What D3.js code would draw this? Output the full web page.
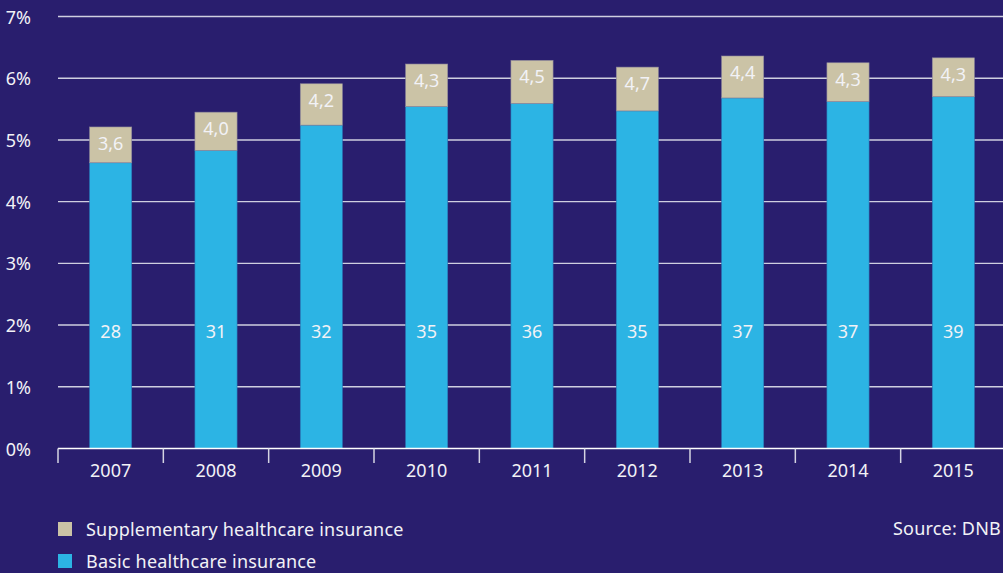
<!DOCTYPE html>
<html>
<head>
<meta charset="utf-8">
<script src="https://cdn.jsdelivr.net/npm/d3@7"></script>
<style>
  html, body { margin: 0; padding: 0; background: #291e6e; }
  svg { display: block; }
  text { font-family: "Noto Sans", "Open Sans", sans-serif; fill: #f2f2f6; font-size: 18px; }
  .legend-text { letter-spacing: 0.2px; }
</style>
</head>
<body>
<svg id="chart" width="1003" height="573"></svg>
<script>
// Premium income as share of GDP (%), with amounts in EUR billion as labels
const years = ["2007", "2008", "2009", "2010", "2011", "2012", "2013", "2014", "2015"];
const basicShare = [4.63, 4.83, 5.24, 5.54, 5.59, 5.47, 5.68, 5.62, 5.70];
const supplShare = [0.58, 0.62, 0.67, 0.69, 0.70, 0.71, 0.68, 0.63, 0.63];
const basicLabels = ["28", "31", "32", "35", "36", "35", "37", "37", "39"];
const supplLabels = ["3,6", "4,0", "4,2", "4,3", "4,5", "4,7", "4,4", "4,3", "4,3"];
const yTicks = [0, 1, 2, 3, 4, 5, 6, 7];
const legendItems = ["Supplementary healthcare insurance", "Basic healthcare insurance"];

const colors = { basic: "#2cb4e4", suppl: "#cbc3a6" };

const svg = d3.select("#chart");
const plotLeft = 58, plotRight = 1006, plotTop = 16.5, plotBottom = 448.5;

const x = d3.scaleBand().domain(years).range([plotLeft, plotRight])
  .paddingInner(0.6).paddingOuter(0.3);
const y = d3.scaleLinear().domain([0, 7]).range([plotBottom, plotTop]);

// gridlines
svg.append("g").selectAll("line").data(yTicks.filter(d => d > 0)).join("line")
  .attr("x1", plotLeft).attr("x2", 1003)
  .attr("y1", d => y(d)).attr("y2", d => y(d))
  .attr("stroke", "#cfcfe0").attr("stroke-width", 1.4);

// y labels
svg.append("g").selectAll("text").data(yTicks).join("text")
  .attr("x", 31).attr("y", d => y(d) + 7)
  .attr("text-anchor", "end")
  .text(d => d + "%");

const rows = years.map((yr, i) => ({
  yr, b: basicShare[i], s: supplShare[i], bl: basicLabels[i], sl: supplLabels[i]
}));

// basic segments
svg.append("g").selectAll("rect").data(rows).join("rect")
  .attr("x", d => x(d.yr)).attr("width", x.bandwidth())
  .attr("y", d => y(d.b)).attr("height", d => y(0) - y(d.b))
  .attr("fill", colors.basic)
  .attr("stroke", "#2a78b8").attr("stroke-width", 0.6);

// supplementary segments
svg.append("g").selectAll("rect").data(rows).join("rect")
  .attr("x", d => x(d.yr)).attr("width", x.bandwidth())
  .attr("y", d => y(d.b + d.s)).attr("height", d => y(d.b) - y(d.b + d.s))
  .attr("fill", colors.suppl)
  .attr("stroke", "#8d879a").attr("stroke-width", 0.6);

// value labels
svg.append("g").selectAll("text").data(rows).join("text")
  .attr("x", d => x(d.yr) + x.bandwidth() / 2)
  .attr("y", y(1.9) + 7)
  .attr("text-anchor", "middle")
  .text(d => d.bl);

svg.append("g").selectAll("text").data(rows).join("text")
  .attr("x", d => x(d.yr) + x.bandwidth() / 2)
  .attr("y", d => y(d.b + d.s) + 23)
  .attr("text-anchor", "middle")
  .text(d => d.sl);

// x axis
const xAxis = svg.append("g");
xAxis.append("line")
  .attr("x1", plotLeft).attr("x2", 1003).attr("y1", plotBottom).attr("y2", plotBottom)
  .attr("stroke", "#ffffff").attr("stroke-width", 1.5);
const bounds = years.map(d => x(d) - x.step() * x.paddingInner() / 2);
xAxis.selectAll("line.tick").data(bounds).join("line")
  .attr("class", "tick")
  .attr("x1", d => d).attr("x2", d => d)
  .attr("y1", plotBottom).attr("y2", 463)
  .attr("stroke", "#d4d4e2").attr("stroke-width", 1.5);
xAxis.selectAll("text").data(years).join("text")
  .attr("x", d => x(d) + x.bandwidth() / 2)
  .attr("y", 477)
  .attr("text-anchor", "middle")
  .text(d => d);

// legend
const legend = svg.append("g").selectAll("g").data(legendItems).join("g")
  .attr("transform", (d, i) => `translate(58, ${522 + i * 32})`);
legend.append("rect").attr("width", 14).attr("height", 14)
  .attr("fill", (d, i) => i === 0 ? colors.suppl : colors.basic);
legend.append("text").attr("class", "legend-text").attr("x", 28).attr("y", 14)
  .text(d => d);

svg.append("text").attr("class", "legend-text").attr("x", 1001).attr("y", 535)
  .attr("text-anchor", "end")
  .text("Source: DNB");
</script>
</body>
</html>
